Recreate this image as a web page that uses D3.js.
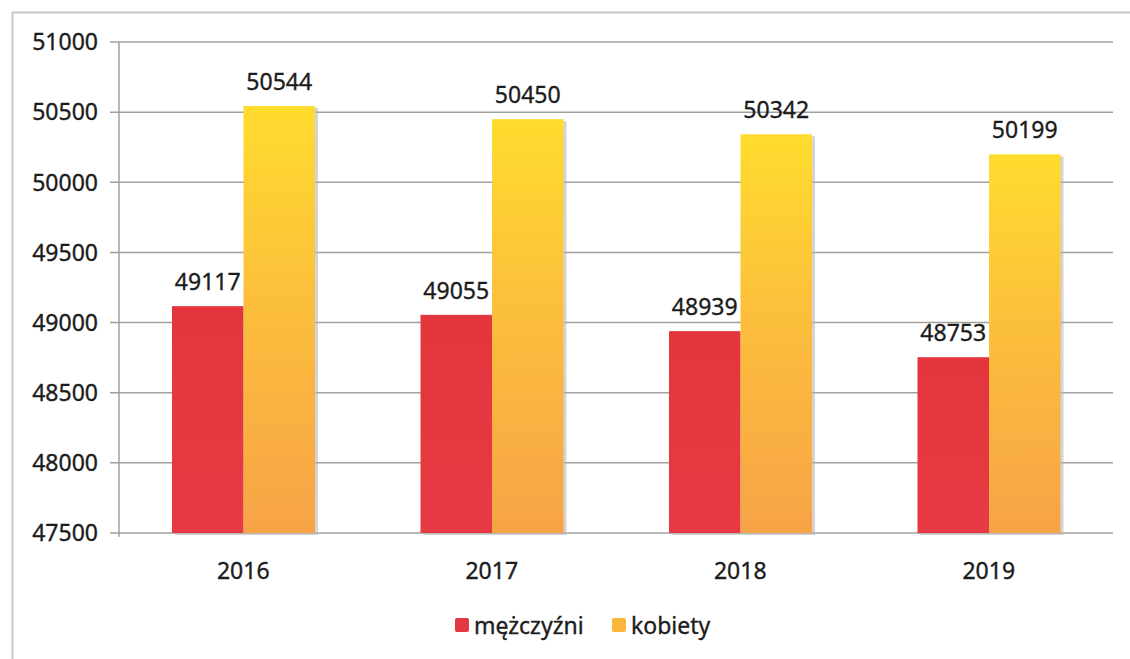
<!DOCTYPE html>
<html>
<head>
<meta charset="utf-8">
<script src="https://cdn.jsdelivr.net/npm/d3@7"></script>
<style>
  body { margin: 0; background: #fff; }
  svg { display: block; font-family: 'Noto Sans', 'Open Sans', sans-serif; }
  .lbl { fill: #1c1c1c; stroke: #1c1c1c; stroke-width: 0.35px; font-size: 23px; }
</style>
</head>
<body>
<div id="chart"></div>
<script>
const years = ['2016', '2017', '2018', '2019'];
const men = [49117, 49055, 48939, 48753];
const women = [50544, 50450, 50342, 50199];
const seriesNames = ['mężczyźni', 'kobiety'];
const yTicks = [47500, 48000, 48500, 49000, 49500, 50000, 50500, 51000];

const canvasWidth = 1130;
const canvasHeight = 659;
const margins = { top: 42, right: 17, bottom: 126, left: 119 };
const width = canvasWidth - margins.left - margins.right;
const height = canvasHeight - margins.top - margins.bottom;

const svg = d3.select('#chart')
  .append('svg')
    .attr('width', canvasWidth)
    .attr('height', canvasHeight);

// gradients
const defs = svg.append('defs');
const redGrad = defs.append('linearGradient')
  .attr('id', 'gRed').attr('x1', 0).attr('y1', 0).attr('x2', 0).attr('y2', 1);
redGrad.append('stop').attr('offset', '0%').attr('stop-color', '#e2353c');
redGrad.append('stop').attr('offset', '100%').attr('stop-color', '#e83a44');
const yelGrad = defs.append('linearGradient')
  .attr('id', 'gYel').attr('x1', 0).attr('y1', 0).attr('x2', 0).attr('y2', 1);
yelGrad.append('stop').attr('offset', '0%').attr('stop-color', '#ffdc2e');
yelGrad.append('stop').attr('offset', '45%').attr('stop-color', '#fcbf3c');
yelGrad.append('stop').attr('offset', '100%').attr('stop-color', '#f7a347');
const fills = ['url(#gRed)', 'url(#gYel)'];
const legendFills = ['#e2383f', '#f9b53c'];

// outer frame
svg.append('rect')
  .attr('x', 12.5).attr('y', 12.5)
  .attr('width', 1120).attr('height', 660)
  .attr('fill', 'none')
  .attr('stroke', '#c8c8c8')
  .attr('stroke-width', 2);

const graph = svg.append('g')
  .attr('transform', `translate(${margins.left}, ${margins.top})`);

const scaleX = d3.scaleBand().domain(years).range([0, width]);
const scaleSeries = d3.scaleBand().domain([0, 1]).range([53, 196]);
const scaleY = d3.scaleLinear().domain([47500, 51000]).range([height, 0]);

// gridlines
graph.append('g')
  .selectAll('line')
  .data(yTicks)
  .enter()
  .append('line')
    .attr('x1', -9)
    .attr('x2', width)
    .attr('y1', d => scaleY(d))
    .attr('y2', d => scaleY(d))
    .attr('stroke', '#a0a0a0')
    .attr('stroke-width', 1.5);

// y axis line
graph.append('line')
  .attr('x1', 0).attr('x2', 0)
  .attr('y1', 0).attr('y2', height + 4)
  .attr('stroke', '#a0a0a0')
  .attr('stroke-width', 1.5);

// y tick labels
graph.append('g')
  .selectAll('text')
  .data(yTicks)
  .enter()
  .append('text')
    .attr('class', 'lbl')
    .attr('x', -21)
    .attr('y', d => scaleY(d))
    .attr('dy', '0.36em')
    .attr('text-anchor', 'end')
    .text(d => d);

// x labels
graph.append('g')
  .selectAll('text')
  .data(years)
  .enter()
  .append('text')
    .attr('class', 'lbl')
    .attr('x', d => scaleX(d) + scaleX.bandwidth() / 2)
    .attr('y', height + 46)
    .attr('text-anchor', 'middle')
    .text(d => d);

// bars
const groups = graph.append('g')
  .selectAll('g')
  .data(years.map((y, i) => ({ year: y, values: [men[i], women[i]] })))
  .enter()
  .append('g')
    .attr('transform', d => `translate(${scaleX(d.year)}, 0)`);

const bars = groups.selectAll('g')
  .data(d => d.values.map((v, s) => ({ v, s })))
  .enter();

// shadow
bars.append('rect')
  .attr('x', d => scaleSeries(d.s) + 3)
  .attr('y', d => scaleY(d.v) + 2)
  .attr('width', scaleSeries.bandwidth())
  .attr('height', d => height - scaleY(d.v))
  .attr('fill', '#b8b8b8')
  .attr('opacity', 0.6);

bars.append('rect')
  .attr('x', d => scaleSeries(d.s))
  .attr('y', d => scaleY(d.v))
  .attr('width', scaleSeries.bandwidth())
  .attr('height', d => height - scaleY(d.v))
  .attr('fill', d => fills[d.s]);

bars.append('text')
  .attr('class', 'lbl')
  .attr('x', d => scaleSeries(d.s) + scaleSeries.bandwidth() / 2)
  .attr('y', d => scaleY(d.v) - 16)
  .attr('text-anchor', 'middle')
  .text(d => d.v);

// legend
const legend = svg.append('g')
  .attr('transform', 'translate(455, 627)');
const legendX = [0, 157];
seriesNames.forEach((name, i) => {
  legend.append('rect')
    .attr('x', legendX[i]).attr('y', -9)
    .attr('width', 14).attr('height', 14)
    .attr('rx', 2)
    .attr('fill', legendFills[i]);
  legend.append('text')
    .attr('class', 'lbl')
    .attr('x', legendX[i] + 19)
    .attr('y', 0)
    .attr('dy', '0.32em')
    .text(name);
});
</script>
</body>
</html>
